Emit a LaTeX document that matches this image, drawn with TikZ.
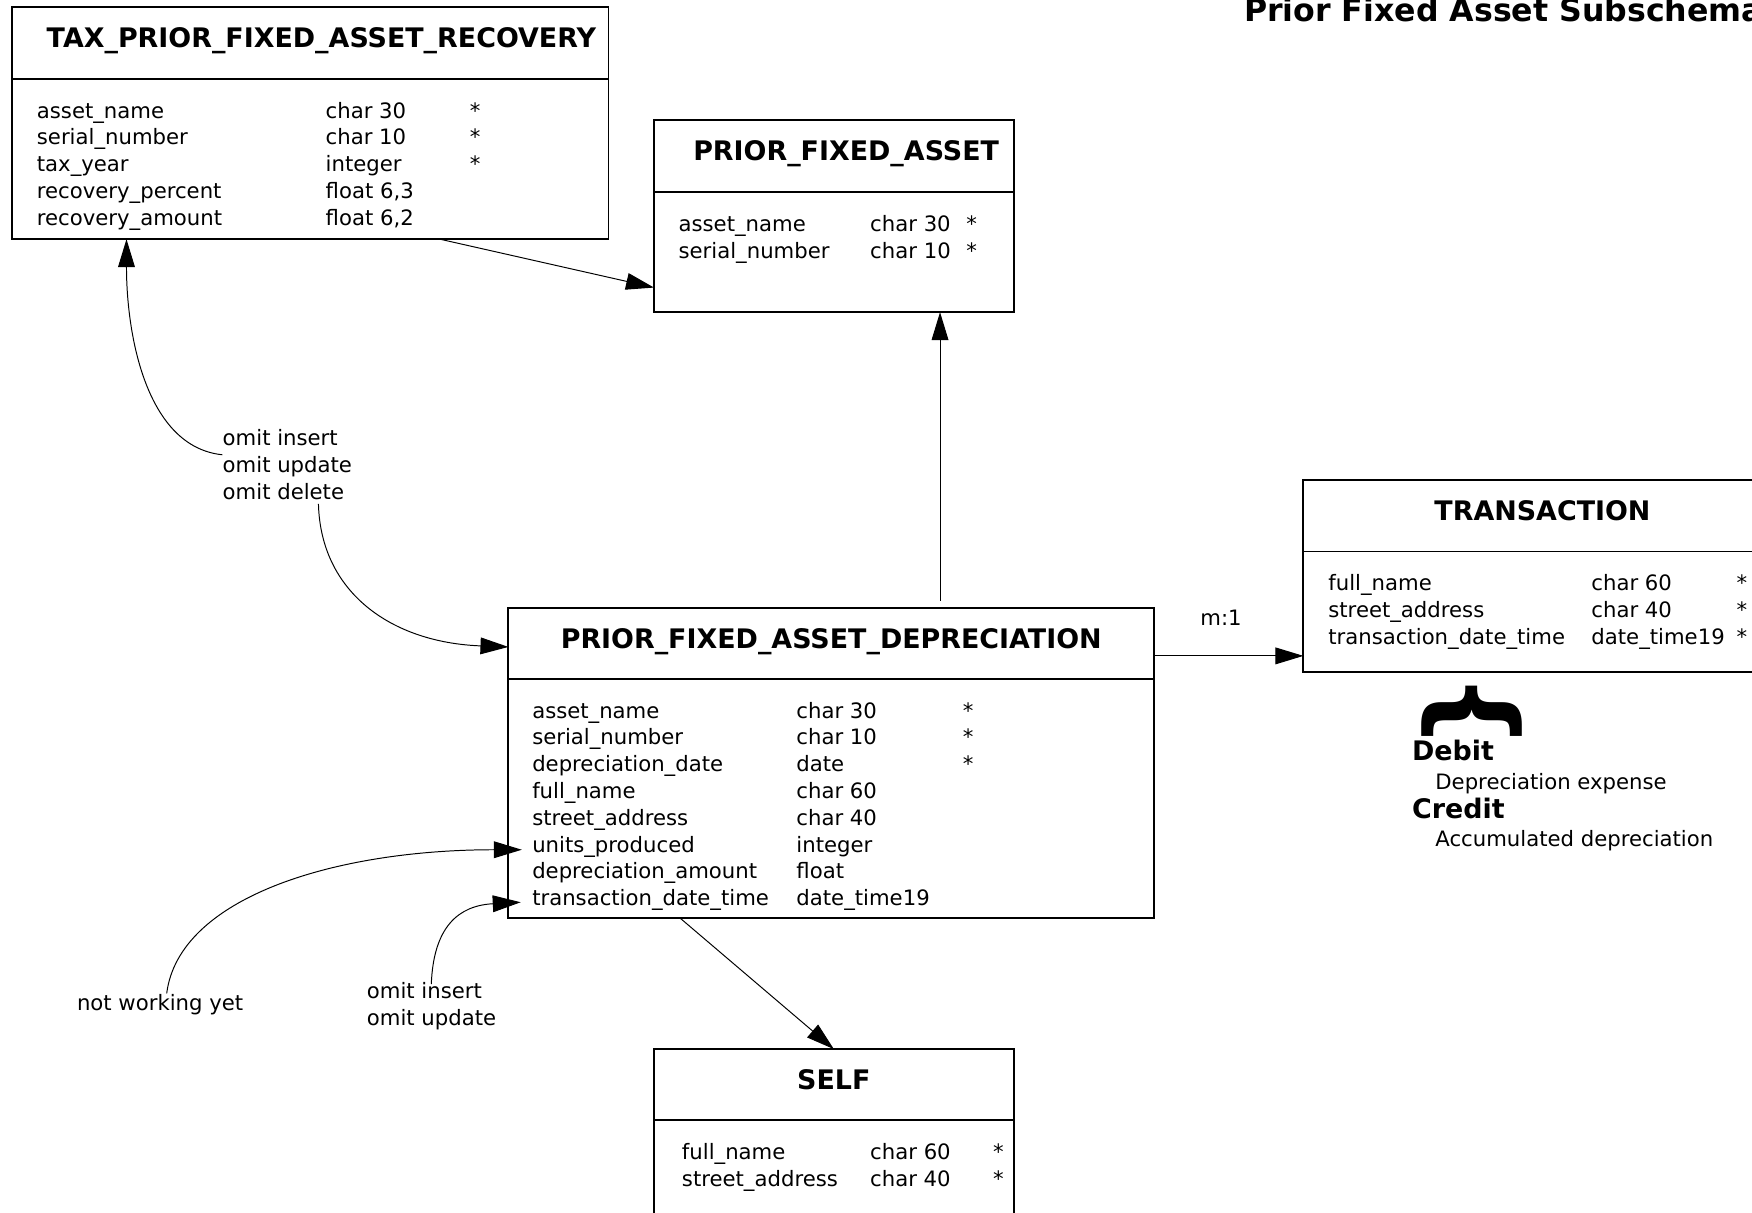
\documentclass[tikz,border=0pt]{standalone}
\usepackage{fontspec}
\setmainfont{DejaVu Sans}
\usetikzlibrary{arrows.meta,calc}

\newcommand\tblfont{\fontsize{10.8}{13.66}\selectfont}
\newcommand\hdfont{\fontsize{13.7}{16}\selectfont\bfseries}

\tikzset{
  tblhead/.style={draw, line width=1pt, outer sep=0pt, inner sep=0pt, anchor=north west,
    font=\hdfont, text height=0.75em, text depth=0.27em},
  tblbody/.style={draw, line width=1pt, outer sep=0pt, inner sep=0pt, anchor=north},
  fields/.style={anchor=north west, inner sep=0pt, font=\tblfont},
  note/.style={anchor=north west, inner sep=0pt, font=\tblfont},
  txt/.style={anchor=base west, inner sep=0pt, font=\tblfont},
  link/.style={line width=0.5pt, -{Triangle[length=0.5cm,width=0.3cm]}},
}

\begin{document}
\begin{tikzpicture}[x=0.02cm,y=-0.02cm]
\useasboundingbox (0,0) rectangle (1568,1085);

\node[txt, font=\fontsize{16.1}{19}\selectfont\bfseries] (title) at (1113,19.6) {Prior Fixed Asset Subschema};

% tax recovery table
\node[tblhead, minimum width=10.68cm, minimum height=1.28cm] (tax) at (10.7,6.6) {\hspace*{0.4cm}TAX\_PRIOR\_FIXED\_ASSET\_RECOVERY};
\node[tblbody, minimum width=10.68cm, minimum height=2.87cm] (tax-b) at (tax.south) {};
\node[fields] (tax-f) at ($(tax-b.north west)+(22,18)$) {\begin{tabular}{@{}p{5.17cm}@{}p{2.58cm}@{}l@{}}
asset\_name & char 30 & *\\
serial\_number & char 10 & *\\
tax\_year & integer & *\\
recovery\_percent & float 6,3 & \\
recovery\_amount & float 6,2 &
\end{tabular}};

% prior fixed asset
\node[tblhead, minimum width=6.44cm, minimum height=1.29cm] (pfa) at (585.3,107.4) {\hspace*{0.44cm}PRIOR\_FIXED\_ASSET};
\node[tblbody, minimum width=6.44cm, minimum height=2.15cm] (pfa-b) at (pfa.south) {};
\node[fields] (pfa-f) at ($(pfa-b.north west)+(21.7,18)$) {\begin{tabular}{@{}p{3.43cm}@{}p{1.72cm}@{}l@{}}
asset\_name & char 30 & *\\
serial\_number & char 10 & *
\end{tabular}};

% depreciation
\node[tblhead, minimum width=11.56cm, minimum height=1.26cm] (pfad) at (455,544.5) {PRIOR\_FIXED\_ASSET\_DEPRECIATION};
\node[tblbody, minimum width=11.56cm, minimum height=4.29cm] (pfad-b) at (pfad.south) {};
\node[fields] (pfad-f) at ($(pfad-b.north west)+(21,18)$) {\begin{tabular}{@{}p{4.73cm}@{}p{2.98cm}@{}l@{}}
asset\_name & char 30 & *\\
serial\_number & char 10 & *\\
depreciation\_date & date & *\\
full\_name & char 60 & \\
street\_address & char 40 & \\
units\_produced & integer & \\
depreciation\_amount & float & \\
transaction\_date\_time & date\_time19 &
\end{tabular}};

% transaction
\node[tblhead, minimum width=8.56cm, minimum height=1.28cm] (trans) at (1166.5,429.6) {TRANSACTION};
\node[tblbody, minimum width=8.56cm, minimum height=2.15cm] (trans-b) at (trans.south) {};
\node[fields] (trans-f) at ($(trans-b.north west)+(22,18)$) {\begin{tabular}{@{}p{4.71cm}@{}p{2.6cm}@{}l@{}}
full\_name & char 60 & *\\
street\_address & char 40 & *\\
transaction\_date\_time & date\_time19 & *
\end{tabular}};

% self
\node[tblhead, minimum width=6.44cm, minimum height=1.27cm] (self) at (585.3,938.9) {SELF};
\node[tblbody, minimum width=6.44cm, minimum height=2.14cm] (self-b) at (self.south) {};
\node[fields] (self-f) at ($(self-b.north west)+(24.7,18)$) {\begin{tabular}{@{}p{3.37cm}@{}p{2.2cm}@{}l@{}}
full\_name & char 60 & *\\
street\_address & char 40 & *
\end{tabular}};

% debit / credit
\node[rotate=-90, inner sep=0pt, font=\fontsize{55.5}{56}\selectfont\bfseries] (brace) at (1317.5,636.5) {\{};
\node[txt, font=\hdfont] (debit) at (1263.4,680.8) {Debit};
\node[txt] (dexp) at (1284.3,707) {Depreciation expense};
\node[txt, font=\hdfont] (credit) at (1263.4,732.4) {Credit};
\node[txt] (cacc) at (1284.3,757.8) {Accumulated depreciation};

% notes
\node[note] (oid) at (199,382) {\begin{tabular}{@{}l@{}}omit insert\\omit update\\omit delete\end{tabular}};
\node[note] (oiu) at (328,876.7) {\begin{tabular}{@{}l@{}}omit insert\\omit update\end{tabular}};
\node[txt] (nwy) at (68.6,904) {not working yet};
\node[txt] (m1) at (1074,560) {m:1};

% links
\coordinate (tax-out) at ($(tax-b.south west)+(383,0)$);
\coordinate (pfa-in) at ($(pfa-b.south west)+(0,-22)$);
\draw[link] (tax-out) -- (pfa-in);

\coordinate (pfad-up) at ($(pfad.north west)+(386.3,-7)$);
\draw[link] (pfad-up) -- (pfad-up |- pfa-b.south);

\coordinate (pfad-r) at ($(pfad.east)+(0,11)$);
\draw[link] (pfad-r) -- (pfad-r -| trans-b.west);

\coordinate (pfad-dn) at ($(pfad-b.south west)+(154,0)$);
\draw[link] (pfad-dn) -- (self.north);

\coordinate (oid-up) at ($(oid.north west)+(0,25)$);
\coordinate (tax-in) at ($(tax-b.south west)+(102.5,0)$);
\draw[link] (oid-up) .. controls ($(oid-up)+(-68,-7)$) and ($(tax-in)+(0,86)$) .. (tax-in);

\coordinate (oid-dn) at ($(oid.north west)+(86,69)$);
\coordinate (pfad-in) at ($(pfad.west)+(0,3)$);
\draw[link] (oid-dn) .. controls ($(oid-dn)+(2,79)$) and ($(pfad-in)+(-105,-4)$) .. (pfad-in);

\coordinate (nwy-up) at ($(nwy.base west)+(80.6,-15)$);
\coordinate (pfad-units) at ($(pfad-f.north west)+(-9,135)$);
\draw[link] (nwy-up) .. controls ($(nwy-up)+(11,-86)$) and ($(pfad-units)+(-167,0)$) .. (pfad-units);

\coordinate (oiu-up) at ($(oiu.north west)+(58,4)$);
\coordinate (pfad-tdt) at ($(pfad-f.north west)+(-10,182)$);
\draw[link] (oiu-up) .. controls ($(oiu-up)+(2,-51)$) and ($(pfad-tdt)+(-56,3)$) .. (pfad-tdt);
\end{tikzpicture}
\end{document}
